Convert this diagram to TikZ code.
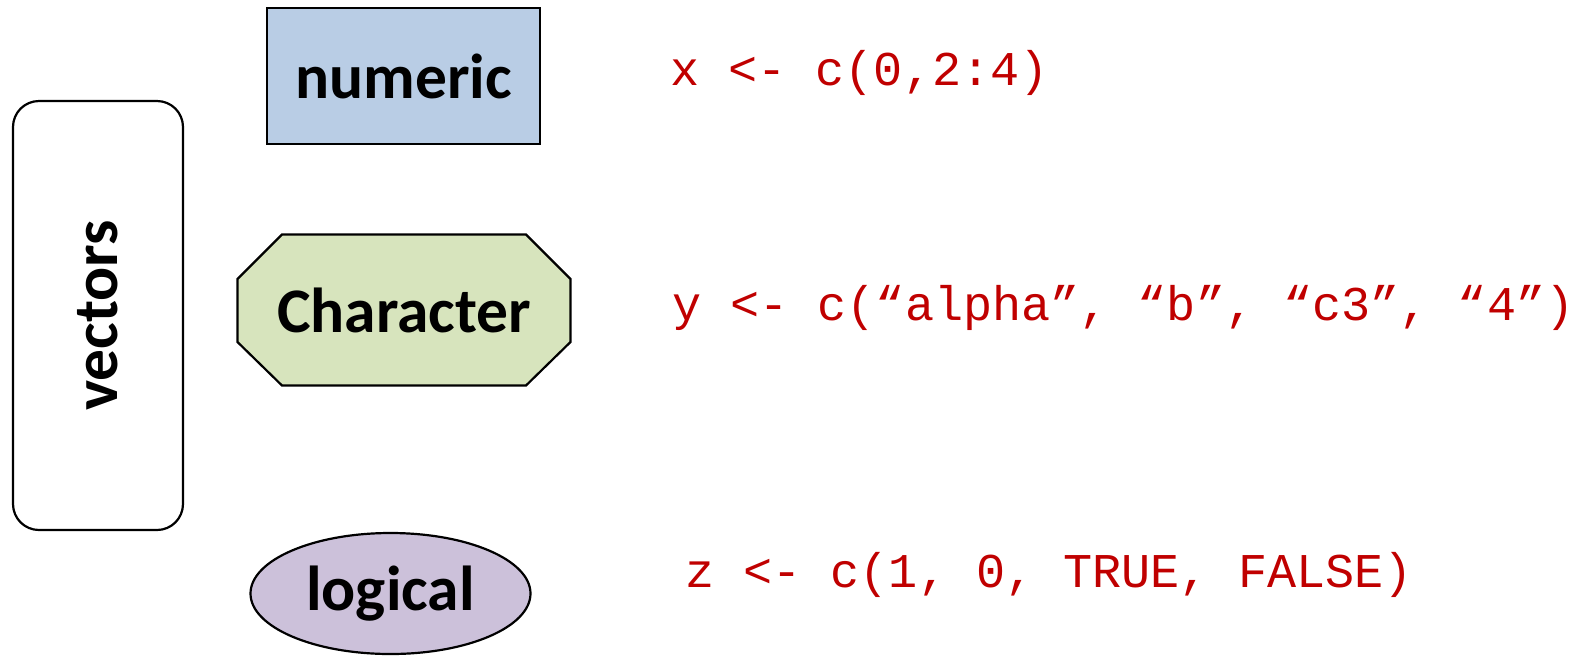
\documentclass[tikz,border=0pt]{standalone}
\usepackage{fontspec}
\setmainfont{Carlito}
\newfontfamily\codefont{Liberation Mono}
\usetikzlibrary{shapes.geometric}
\definecolor{codered}{HTML}{C00000}
\definecolor{numfill}{HTML}{B9CDE5}
\definecolor{charfill}{HTML}{D7E4BD}
\definecolor{logfill}{HTML}{CCC1DA}
\tikzset{
  shapebox/.style={draw=black, line width=2.2pt, inner sep=0pt},
  lbl/.style={font=\fontsize{63.5}{70}\selectfont\bfseries},
  code/.style={font=\codefont\fontsize{48.5}{56}\selectfont, text=codered, anchor=base west, inner sep=0pt},
}
\begin{document}
\begin{tikzpicture}[x=1pt,y=-1pt]
\useasboundingbox (0,0) rectangle (1578,657);
% vectors
\node[shapebox, rounded corners=26pt, minimum width=170pt, minimum height=429pt] (vec) at (98,315.5) {};
\node[lbl, rotate=90] (vectxt) at (vec.center) {vectors};
% numeric
\node[shapebox, fill=numfill, minimum width=273pt, minimum height=136pt, lbl] (num) at (403.5,76) {numeric};
% character (octagon)
\draw[shapebox, fill=charfill] (282,234.5) -- (526,234.5) -- (570.5,279) -- (570.5,342) -- (526,385.5)
  -- (282,385.5) -- (237.5,342) -- (237.5,279) -- cycle;
\node[lbl, inner sep=0pt] (chr) at (404,310) {Character};
% logical
\node[shapebox, fill=logfill, ellipse, minimum width=280pt, minimum height=121pt, lbl] (log) at (390.5,593.5) {logical};
% code
\node[code] (cx) at (670,85) {x <- c(0,2:4)};
\node[code] (cy) at (672,320) {y <- c(“alpha”, “b”, “c3”, “4”)};
\node[code] (cz) at (685,587) {z <- c(1, 0, TRUE, FALSE)};
\end{tikzpicture}
\end{document}
